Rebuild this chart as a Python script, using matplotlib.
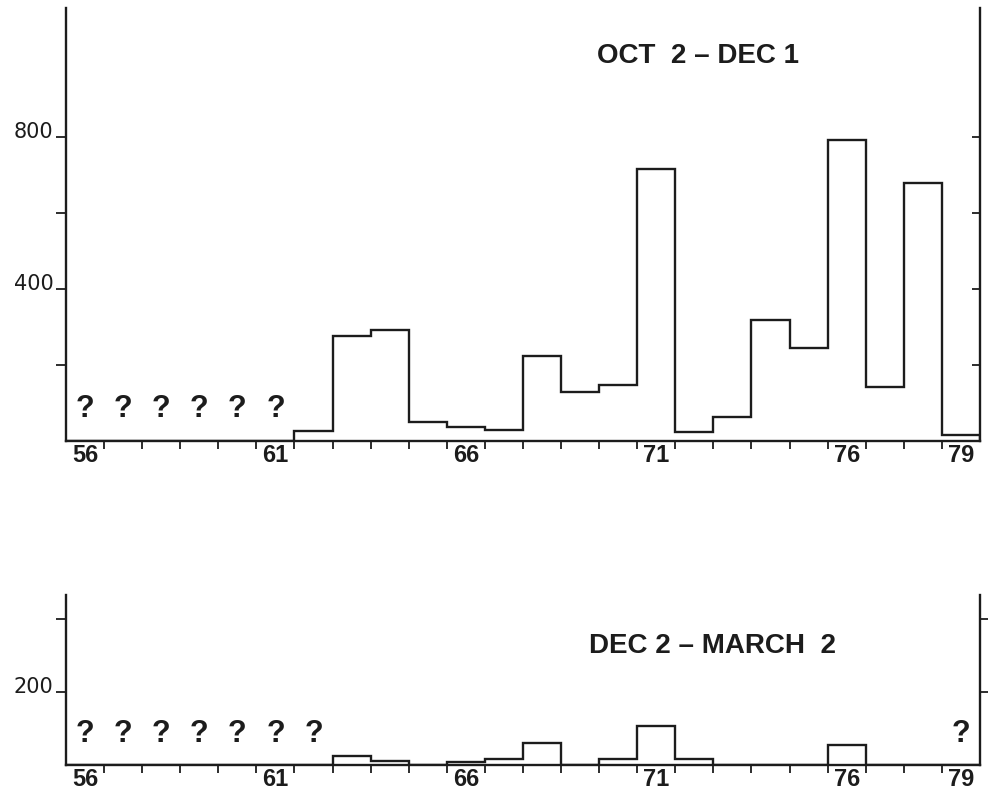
"""Two-panel yearly step histogram (Oct 2 - Dec 1 / Dec 2 - March 2), 1956-1979."""

import matplotlib
matplotlib.use("Agg")
import matplotlib.pyplot as plt
import matplotlib.transforms as mtransforms
import numpy as np

plt.rcParams["font.family"] = ["Liberation Sans", "DejaVu Sans"]

# years 1956..1979, one bin per season; None = no data ("?")
YEARS = list(range(56, 80))
OCT_DEC = [None, None, None, None, None, None,
           25, 276, 292, 51, 38, 29, 224, 130, 147, 717,
           24, 62, 318, 244, 792, 143, 678, 16]
DEC_MAR = [None, None, None, None, None, None, None,
           25, 12, 0, 9, 17, 60, 0, 17, 106,
           16, 0, 0, 0, 54, 0, 0, None]

YEAR_LABELS = ["56", "61", "66", "71", "76", "79"]
LABEL_YEARS = [56, 61, 66, 71, 76, 79]

INK = "#1c1c1c"
LW = 1.7


def draw_panel(ax, counts, ymax, yticks, ylabeled, title, title_xy, right_dir):
    edges = np.arange(YEARS[0], YEARS[-1] + 2)
    vals = np.array([0 if c is None else c for c in counts], dtype=float)
    ax.stairs(vals, edges, color=INK, lw=LW, baseline=0, zorder=3)

    # unknown seasons
    for yr, c in zip(YEARS, counts):
        if c is None:
            ax.text(yr + 0.5, 85, "?", ha="center", va="center",
                    fontsize=22, fontweight="bold", color=INK)

    ax.set_xlim(edges[0], edges[-1])
    ax.set_ylim(0, ymax)

    # year labels centred in bins, tick marks on bin edges
    ax.set_xticks([y + 0.5 for y in LABEL_YEARS])
    ax.set_xticklabels(YEAR_LABELS, fontweight="bold")
    ax.set_xticks(np.arange(edges[0] + 1, edges[-1]), minor=True)
    ax.tick_params(axis="x", which="major", length=0, pad=2,
                   labelsize=17, labelcolor=INK)
    ax.tick_params(axis="x", which="minor", length=6, width=1.3,
                   direction="out", color=INK)

    ax.set_yticks(yticks)
    ax.set_yticklabels([str(t) if t in ylabeled else "" for t in yticks],
                       family="DejaVu Sans")
    ax.tick_params(axis="y", length=7, width=1.3, direction="out",
                   color=INK, pad=2, labelsize=15, labelcolor=INK)
    shift = mtransforms.ScaledTranslation(0, 5 / 72, ax.figure.dpi_scale_trans)
    for lbl in ax.get_yticklabels():
        lbl.set_transform(lbl.get_transform() + shift)

    sec = ax.secondary_yaxis("right")
    sec.set_yticks(yticks)
    sec.set_yticklabels([])
    sec.tick_params(length=6, width=1.3, direction=right_dir, color=INK)
    sec.spines["right"].set_linewidth(LW)
    sec.spines["right"].set_color(INK)

    for side in ("top", "right"):
        ax.spines[side].set_visible(False)
    for side in ("left", "bottom"):
        ax.spines[side].set_linewidth(LW)
        ax.spines[side].set_color(INK)

    ax.text(title_xy[0], title_xy[1], title, transform=ax.transAxes,
            ha="center", va="center", fontsize=20, fontweight="bold",
            color=INK)


def main():
    fig = plt.figure(figsize=(9.94, 7.91), dpi=100)
    fig.patch.set_facecolor("white")

    ax_top = fig.add_axes([0.0664, 0.4425, 0.9195, 0.5474])
    ax_bot = fig.add_axes([0.0664, 0.0329, 0.9195, 0.215])

    draw_panel(ax_top, OCT_DEC, 1140, [200, 400, 600, 800], [400, 800],
               "OCT  2 – DEC 1", (0.691, 0.889), "in")
    draw_panel(ax_bot, DEC_MAR, 465, [200, 400], [200],
               "DEC 2 – MARCH  2", (0.707, 0.70), "out")

    fig.savefig("out.png", dpi=100, facecolor="white")


if __name__ == "__main__":
    main()
